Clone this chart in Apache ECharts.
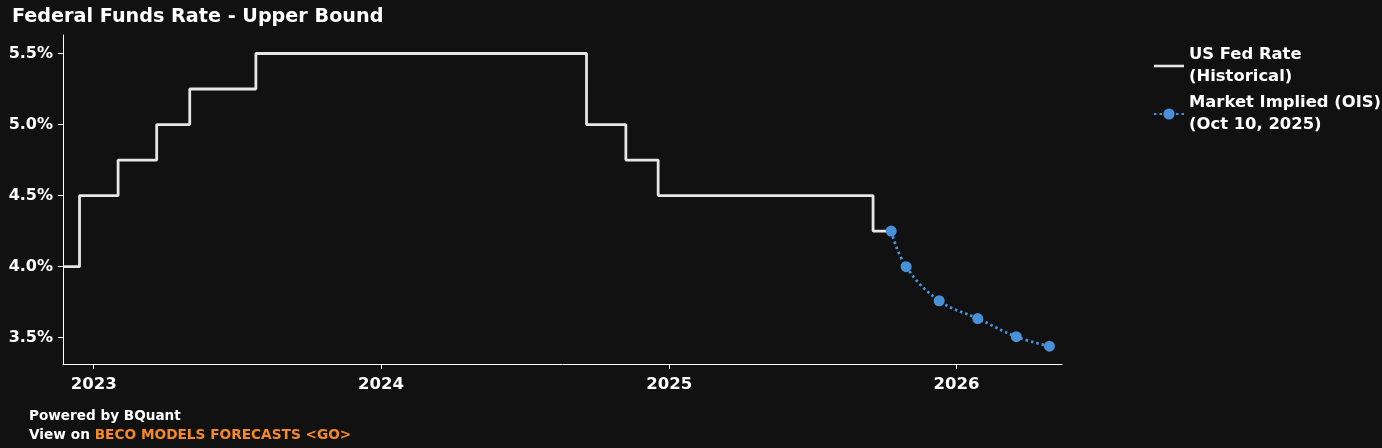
<!DOCTYPE html>
<html><head><meta charset="utf-8">
<script src="https://cdn.jsdelivr.net/npm/echarts@6/dist/echarts.min.js"></script>
<style>html,body{margin:0;padding:0;background:#111111;}#c{width:1382px;height:448px;}</style>
</head><body><div id="c"></div>
<script>
const histDates = ['2022-11-23','2022-12-14','2023-02-01','2023-03-22','2023-05-03','2023-07-26','2024-09-18','2024-11-07','2024-12-18','2025-09-17','2025-10-10'];
const histValues = [4.00, 4.50, 4.75, 5.00, 5.25, 5.50, 5.00, 4.75, 4.50, 4.25, 4.25];
const oisDates = ['2025-10-10','2025-10-29','2025-12-10','2026-01-28','2026-03-18','2026-04-29'];
const oisValues = [4.25, 4.00, 3.76, 3.635, 3.507, 3.44];
const yearTicks = ['2023-01-01','2024-01-01','2025-01-01','2026-01-01'];
const yTicks = [3.5, 4.0, 4.5, 5.0, 5.5];
const xRange = ['2022-11-23','2026-05-15'];
const yRange = [3.315, 5.63];

function ts(s){ const p = s.split('-').map(Number); return Date.UTC(p[0], p[1]-1, p[2]); }

const font = '"DejaVu Sans", Verdana, sans-serif';
const chart = echarts.init(document.getElementById('c'));
chart.setOption({
  backgroundColor: '#111111',
  animation: false,
  title: {
    text: 'Federal Funds Rate - Upper Bound', left: 7, top: 3,
    textStyle: { color: '#ffffff', fontSize: 19.2, fontWeight: 'bold', fontFamily: font }
  },
  grid: { left: 63, right: 320, top: 35, bottom: 84 },
  legend: {
    orient: 'vertical', left: 1148, top: 39, itemWidth: 30, itemHeight: 14, itemGap: 4,
    textStyle: { color: '#ffffff', fontSize: 16.4, fontWeight: 'bold', fontFamily: font, lineHeight: 22 },
    data: [
      { name: 'US Fed Rate\n(Historical)', icon: 'path://M0,0L30,0L30,2.6L0,2.6Z', itemStyle: { color: '#e6e6e6' } },
      { name: 'Market Implied (OIS)\n(Oct 10, 2025)' }
    ]
  },
  xAxis: {
    type: 'value', min: ts(xRange[0]), max: ts(xRange[1]), scale: true,
    axisLine: { show: true, lineStyle: { color: '#ffffff', width: 1 } },
    axisTick: { show: true, length: 5, lineStyle: { color: '#ffffff' }, customValues: yearTicks.map(ts) },
    axisLabel: {
      customValues: yearTicks.map(ts), margin: 12,
      color: '#ffffff', fontSize: 16.5, fontWeight: 'bold', fontFamily: font,
      formatter: v => String(new Date(v).getUTCFullYear())
    },
    splitLine: { show: false }
  },
  yAxis: {
    type: 'value', min: yRange[0], max: yRange[1],
    axisLine: { show: true, lineStyle: { color: '#ffffff', width: 1 } },
    axisTick: { show: true, length: 5, lineStyle: { color: '#ffffff' }, customValues: yTicks },
    axisLabel: {
      customValues: yTicks, margin: 10,
      color: '#ffffff', fontSize: 16, fontWeight: 'bold', fontFamily: font,
      formatter: v => v.toFixed(1) + '%'
    },
    splitLine: { show: false }
  },
  series: [
    {
      name: 'US Fed Rate\n(Historical)', type: 'line', step: 'end', showSymbol: false, symbol: 'none',
      data: histDates.map((d, i) => [ts(d), histValues[i]]),
      lineStyle: { color: '#e6e6e6', width: 2.8 }, itemStyle: { color: '#e6e6e6' }, z: 2
    },
    {
      name: 'Market Implied (OIS)\n(Oct 10, 2025)', type: 'line', smooth: 0.4,
      symbol: 'circle', symbolSize: 11,
      data: oisDates.map((d, i) => [ts(d), oisValues[i]]),
      lineStyle: { color: '#4a90d9', width: 2.8, type: [2.5, 3] },
      itemStyle: { color: '#4a90d9' }, z: 3
    }
  ],
  graphic: [
    { type: 'text', left: 29, top: 409, style: { text: 'Powered by BQuant', fill: '#ffffff', font: 'bold 13.6px "DejaVu Sans", Verdana, sans-serif' } },
    { type: 'text', left: 29, top: 428, style: {
      text: '{w|View on }{o|BECO MODELS FORECASTS <GO>}',
      rich: {
        w: { fill: '#ffffff', fontWeight: 'bold', fontSize: 13.7, fontFamily: font },
        o: { fill: '#f58a25', fontWeight: 'bold', fontSize: 13.7, fontFamily: font }
      }
    } }
  ]
});
</script>
</body></html>
